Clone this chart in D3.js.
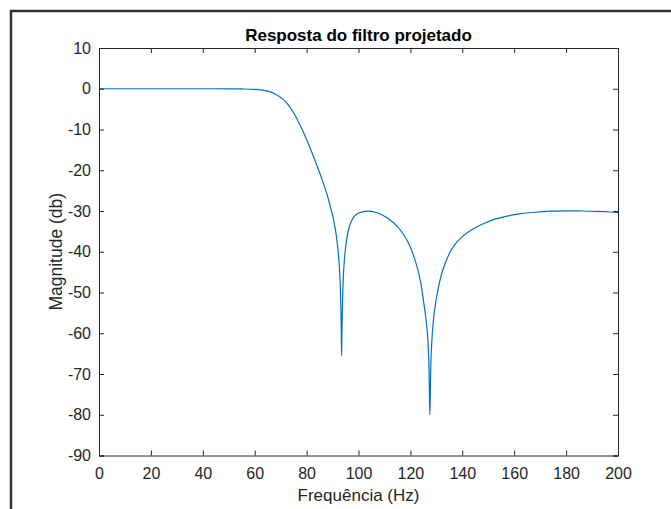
<!DOCTYPE html>
<html>
<head>
<meta charset="utf-8">
<script src="https://cdn.jsdelivr.net/npm/d3@7"></script>
<style>
  html, body { margin: 0; padding: 0; background: #fff; }
  svg { display: block; font-family: Arial, "Liberation Sans", Helvetica, sans-serif; }
</style>
</head>
<body>
<div id="chart"></div>
<script>
// frequency response (Hz, dB)
var freqs = [0, 10, 20, 30, 40, 50, 55, 60, 63, 65, 67, 69, 71, 73, 75, 77, 79, 81, 83, 85, 87,
  88.5, 89.5, 90.3, 91, 91.6, 92.2, 92.7, 93.1, 93.35, 93.5, 93.65, 93.9, 94.3, 94.8, 95.5, 96.3,
  97.2, 98.3, 99.5, 101, 102.5, 104, 105.5, 107.5, 109.5, 111.5, 113.5, 115.5, 117.5, 119.2,
  120.7, 122, 123.3, 124.3, 125.1, 125.9, 126.6, 127.1, 127.5, 127.9, 128.4, 129, 129.8, 130.8,
  132, 133.5, 135.2, 137.2, 139.5, 142, 145, 148.5, 152.5, 157, 162, 168, 174, 180, 186, 192, 197, 200];
var magnitude = [0, 0, 0, 0, 0, -0.02, -0.05, -0.15, -0.35, -0.6, -1.0, -1.7, -2.6, -4.0, -5.9, -8.3, -11.0, -14.0, -17.2, -20.6, -24.2,
  -27.3, -29.8, -31.8, -34.2, -36.8, -40.3, -44.5, -51, -58.5, -65.5, -58.5, -51, -44.5, -40.3, -36.8, -34.3,
  -32.6, -31.4, -30.7, -30.3, -30.1, -30.05, -30.15, -30.5, -31.1, -31.9, -32.9, -34.2, -35.9, -37.8,
  -40, -42.5, -45.5, -48.8, -52.3, -56, -60.5, -67, -80, -67, -60.5, -56, -52.3, -48.8,
  -45.5, -42.7, -40.2, -38.2, -36.6, -35.3, -34.1, -33, -32, -31.3, -30.7, -30.3, -30.05, -29.95, -30, -30.1, -30.25, -30.4];
var xTicks = [0, 20, 40, 60, 80, 100, 120, 140, 160, 180, 200];
var yTicks = [10, 0, -10, -20, -30, -40, -50, -60, -70, -80, -90];

(function() {
var width = 671, height = 509;
var plotLeft = 99, plotRight = 618, plotTop = 48, plotBottom = 455.5;
var axisColor = '#262626';

var svg = d3.select('#chart').append('svg')
  .attr('width', width)
  .attr('height', height);

// outer figure frame (only left and top edges are inside the picture)
svg.append('rect')
  .attr('x', 11).attr('y', 11)
  .attr('width', 700).attr('height', 540)
  .attr('fill', 'none')
  .attr('stroke', '#333')
  .attr('stroke-width', 2.5);

var x = d3.scaleLinear().domain([0, 200]).range([plotLeft, plotRight]);
var y = d3.scaleLinear().domain([-90, 10]).range([plotBottom, plotTop]);

var g = svg.append('g');

// the curve
var line = d3.line()
  .x(function(d) { return x(d[0]); })
  .y(function(d) { return y(d[1]); })
  .curve(d3.curveCatmullRom.alpha(0.5));

g.append('path')
  .datum(d3.zip(freqs, magnitude))
  .attr('d', line)
  .attr('fill', 'none')
  .attr('stroke', '#0072BD')
  .attr('stroke-width', 1.2)
  .attr('stroke-linejoin', 'round');

// axes, ticks inward on all four sides
var tickLen = 5;

var bottomAxis = g.append('g').attr('transform', 'translate(0,' + plotBottom + ')')
  .call(d3.axisBottom(x).tickValues(xTicks).tickSize(-tickLen).tickPadding(12).tickFormat(String));
var topAxis = g.append('g').attr('transform', 'translate(0,' + plotTop + ')')
  .call(d3.axisTop(x).tickValues(xTicks).tickSize(-tickLen).tickFormat(''));
var leftAxis = g.append('g').attr('transform', 'translate(' + plotLeft + ',0)')
  .call(d3.axisLeft(y).tickValues(yTicks).tickSize(-tickLen).tickPadding(8).tickFormat(String));
var rightAxis = g.append('g').attr('transform', 'translate(' + plotRight + ',0)')
  .call(d3.axisRight(y).tickValues(yTicks).tickSize(-tickLen).tickFormat(''));

[bottomAxis, topAxis, leftAxis, rightAxis].forEach(function(a) {
  a.select('.domain').attr('stroke', axisColor).attr('stroke-width', 1);
  a.selectAll('.tick line').attr('stroke', axisColor).attr('stroke-width', 1);
  a.selectAll('.tick text')
    .attr('fill', axisColor)
    .style('font-size', '16px')
    .style('font-family', 'Arial, "Liberation Sans", sans-serif');
});

// title and axis labels
svg.append('text')
  .attr('x', (plotLeft + plotRight) / 2)
  .attr('y', 41)
  .attr('text-anchor', 'middle')
  .style('font-size', '17px')
  .style('font-weight', 'bold')
  .attr('fill', '#000')
  .text('Resposta do filtro projetado');

svg.append('text')
  .attr('x', (plotLeft + plotRight) / 2)
  .attr('y', 501)
  .attr('text-anchor', 'middle')
  .style('font-size', '17px')
  .attr('fill', axisColor)
  .text('Frequência (Hz)');

svg.append('text')
  .attr('transform', 'translate(62,' + ((plotTop + plotBottom) / 2) + ') rotate(-90)')
  .attr('text-anchor', 'middle')
  .style('font-size', '17.5px')
  .attr('fill', axisColor)
  .text('Magnitude (db)');
})();
</script>
</body>
</html>
